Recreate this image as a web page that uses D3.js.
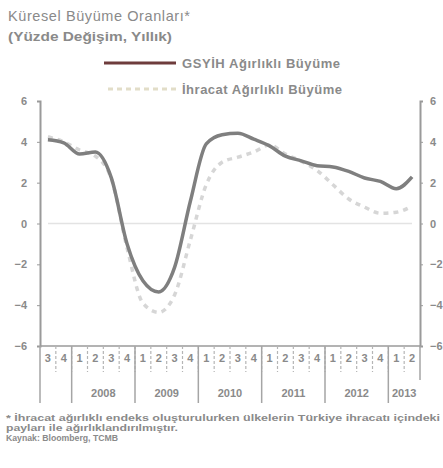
<!DOCTYPE html>
<head>
<meta charset="utf-8" />
<script src="https://d3js.org/d3.v7.min.js"></script>
<style>
  body { margin: 0; background: #fff; }
  text { font-family: "Liberation Sans", Arial, sans-serif; fill: #8a8a8a; }
</style>
</head>
<body>
<script>
// quarters 2007Q3 .. 2013Q2
var quarters = ["3","4","1","2","3","4","1","2","3","4","1","2","3","4","1","2","3","4","1","2","3","4","1","2"];
var years = [["2008", 2, 6], ["2009", 6, 10], ["2010", 10, 14], ["2011", 14, 18], ["2012", 18, 22], ["2013", 22, 24]];
var gsyih = [4.1, 3.95, 3.4, 3.5, 2.25, -1.0, -2.8, -3.35, -2.15, 1.1, 3.9, 4.35, 4.42, 4.13, 3.8, 3.3, 3.07, 2.83, 2.77, 2.55, 2.23, 2.06, 1.7, 2.28];
var ihracat = [4.25, 4.0, 3.6, 3.3, 2.2, -1.2, -3.9, -4.35, -3.5, -0.8, 1.9, 3.0, 3.25, 3.5, 3.85, 3.4, 3.05, 2.6, 1.9, 1.2, 0.8, 0.5, 0.55, 0.85];
var yTicks = [6, 4, 2, 0, -2, -4, -6];

var width = 443, height = 468;
var svg = d3.select("body").append("svg").attr("width", width).attr("height", height);

var x = d3.scaleBand().domain(d3.range(quarters.length)).range([40, 420]);
var y = d3.scaleLinear().domain([-6, 6]).range([346, 101]);

// title
svg.append("text").attr("x", 8).attr("y", 21).attr("textLength", 182).style("font-size", "14.5px").text("Küresel Büyüme Oranları*");
svg.append("text").attr("x", 8).attr("y", 41).attr("textLength", 164).attr("lengthAdjust", "spacingAndGlyphs")
  .style("font-size", "13px").style("font-weight", "bold").text("(Yüzde Değişim, Yıllık)");

// legend
svg.append("line").attr("x1", 104).attr("x2", 176).attr("y1", 63).attr("y2", 63)
  .attr("stroke", "#6e3c3c").attr("stroke-width", 3);
svg.append("text").attr("x", 182).attr("y", 68).attr("textLength", 158).style("font-size", "13px").style("font-weight", "bold").text("GSYİH Ağırlıklı Büyüme");
svg.append("line").attr("x1", 108).attr("x2", 176).attr("y1", 89).attr("y2", 89)
  .attr("stroke", "#e2ddc8").attr("stroke-width", 3).attr("stroke-dasharray", "5,4");
svg.append("text").attr("x", 182).attr("y", 94).attr("textLength", 160).style("font-size", "13px").style("font-weight", "bold").text("İhracat Ağırlıklı Büyüme");

// axes
var axisColor = "#9a9a9a";
var left = svg.append("g").attr("transform", "translate(40,0)").call(d3.axisLeft(y).tickValues(yTicks).tickSize(3).tickPadding(10));
var right = svg.append("g").attr("transform", "translate(420,0)").call(d3.axisRight(y).tickValues(yTicks).tickSize(3).tickPadding(7));
[left, right].forEach(function (g) {
  g.select(".domain").attr("stroke", axisColor).attr("stroke-width", 2);
  g.selectAll(".tick line").attr("stroke", axisColor);
  g.selectAll(".tick text").style("font-size", "11px").style("font-weight", "bold")
    .style("font-family", "Liberation Sans, Arial, sans-serif").attr("fill", "#8a8a8a");
});

// zero line
svg.append("line").attr("x1", 48).attr("x2", 412).attr("y1", y(0)).attr("y2", y(0))
  .attr("stroke", "#e3e3e3").attr("stroke-width", 1.5);

// bottom axis line
svg.append("line").attr("x1", 40).attr("x2", 420).attr("y1", y(-6)).attr("y2", y(-6))
  .attr("stroke", axisColor).attr("stroke-width", 1.5);

// quarter separators and labels
var bw = x.bandwidth();
svg.selectAll(".qsep").data(d3.range(1, quarters.length)).join("line")
  .attr("x1", function (d) { return x(d); }).attr("x2", function (d) { return x(d); })
  .attr("y1", y(-6)).attr("y2", 372)
  .attr("stroke", "#b5b5b5").attr("stroke-width", 1.2).attr("stroke-dasharray", "3,2");
svg.selectAll(".qlab").data(quarters).join("text")
  .attr("x", function (d, i) { return x(i) + bw / 2; }).attr("y", 362)
  .attr("text-anchor", "middle").style("font-size", "11px").style("font-weight", "bold")
  .text(function (d) { return d; });

// year separators and labels
var yearEdges = [0, 2, 6, 10, 14, 18, 22];
svg.selectAll(".ysep").data(yearEdges).join("line")
  .attr("x1", function (d) { return x(d); }).attr("x2", function (d) { return x(d); })
  .attr("y1", y(-6)).attr("y2", 403)
  .attr("stroke", "#a5a5a5").attr("stroke-width", 1.5);
svg.append("line").attr("x1", 420).attr("x2", 420).attr("y1", y(-6)).attr("y2", 380)
  .attr("stroke", "#a5a5a5").attr("stroke-width", 1.5);
svg.selectAll(".ylab").data(years).join("text")
  .attr("x", function (d) { return (x(d[1]) + (d[2] < quarters.length ? x(d[2]) : 420)) / 2; })
  .attr("y", 397).attr("text-anchor", "middle").style("font-size", "11px").style("font-weight", "bold")
  .text(function (d) { return d[0]; });

// lines
var line = d3.line()
  .x(function (d, i) { return x(i) + bw / 2; })
  .y(function (d) { return y(d); })
  .curve(d3.curveMonotoneX);

svg.append("path").datum(ihracat).attr("d", line).attr("fill", "none")
  .attr("stroke", "#d6d6d6").attr("stroke-width", 3.5).attr("stroke-dasharray", "5,5");
svg.append("path").datum(gsyih).attr("d", line).attr("fill", "none")
  .attr("stroke", "#7f7f7f").attr("stroke-width", 3.5);

// footnote
svg.append("text").attr("x", 6).attr("y", 421).attr("textLength", 434).attr("lengthAdjust", "spacingAndGlyphs")
  .style("font-size", "9px").style("font-weight", "bold")
  .text("* İhracat ağırlıklı endeks oluşturulurken ülkelerin Türkiye ihracatı içindeki");
svg.append("text").attr("x", 6).attr("y", 431).attr("textLength", 172).attr("lengthAdjust", "spacingAndGlyphs")
  .style("font-size", "9px").style("font-weight", "bold")
  .text("payları ile ağırlıklandırılmıştır.");
svg.append("text").attr("x", 6).attr("y", 441).attr("textLength", 112).attr("lengthAdjust", "spacingAndGlyphs")
  .style("font-size", "9px").style("font-weight", "bold")
  .text("Kaynak: Bloomberg, TCMB");
</script>
</body>
